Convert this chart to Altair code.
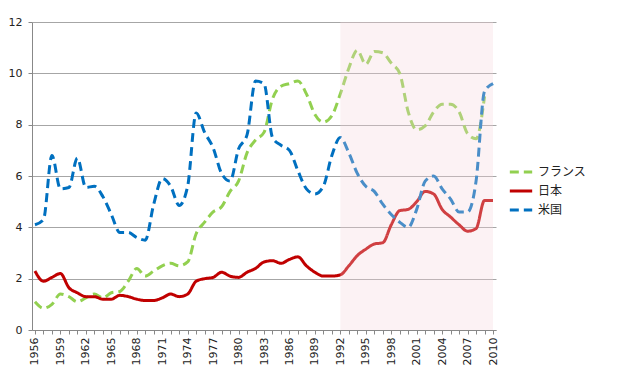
import altair as alt
import pandas as pd

years = list(range(1956, 2011))

france = [1.1, 0.85, 1.0, 1.4, 1.3, 1.1, 1.25, 1.4, 1.25, 1.45,
          1.5, 1.9, 2.4, 2.1, 2.3, 2.5, 2.6, 2.5, 2.65, 3.75,
          4.2, 4.6, 4.8, 5.4, 5.8, 6.9, 7.4, 7.7, 9.0, 9.5,
          9.6, 9.7, 9.2, 8.4, 8.1, 8.35, 9.2, 10.2, 10.9, 10.35,
          10.85, 10.8, 10.4, 10.0, 8.5, 7.8, 7.95, 8.5, 8.8, 8.8,
          8.5, 7.65, 7.45, 9.1]

japan = [2.3, 1.9, 2.05, 2.2, 1.65, 1.45, 1.3, 1.3, 1.2, 1.2,
         1.35, 1.3, 1.2, 1.15, 1.15, 1.25, 1.4, 1.3, 1.4, 1.9,
         2.0, 2.05, 2.25, 2.1, 2.05, 2.25, 2.4, 2.65, 2.7, 2.6,
         2.75, 2.85, 2.5, 2.25, 2.1, 2.1, 2.15, 2.5, 2.9, 3.15,
         3.35, 3.4, 4.1, 4.65, 4.7, 5.0, 5.4, 5.3, 4.7, 4.4,
         4.1, 3.85, 3.95, 5.05, 5.05]

usa = [4.1, 4.3, 6.8, 5.5, 5.55, 6.7, 5.55, 5.6, 5.2, 4.5,
       3.8, 3.8, 3.6, 3.5, 4.9, 5.9, 5.6, 4.85, 5.6, 8.45,
       7.7, 7.1, 6.1, 5.8, 7.05, 7.6, 9.7, 9.6, 7.5, 7.2,
       7.0, 6.2, 5.5, 5.3, 5.6, 6.8, 7.5, 6.9, 6.1, 5.6,
       5.4, 4.9, 4.5, 4.2, 4.0, 4.7, 5.8, 6.0, 5.5, 5.1,
       4.6, 4.6, 5.8, 9.3, 9.6]

series_names = ["フランス", "日本", "米国"]
series_colors = ["#92D050", "#C00000", "#0070C0"]
series_dash = [[9, 5], [1, 0], [9, 5]]

y_ticks = [0, 2, 4, 6, 8, 10, 12]
shade_start = [1992]
shade_end = [2010]

rows = []
for name, vals in zip(series_names, [france, japan, usa]):
    for yr, v in zip(years, vals):
        rows.append({"year": yr, "rate": v, "series": name})
df = pd.DataFrame(rows)

x_scale = alt.Scale(domain=[1955.65, 2010.35], nice=False, zero=False)
y_scale = alt.Scale(domain=[0, 12], nice=False)

x_axis = alt.Axis(
    values=years,
    labelExpr="(datum.value - 1956) % 3 == 0 ? datum.label : ''",
    format="d",
    labelAngle=-90,
    title=None,
    grid=False,
    tickSize=4,
    labelPadding=3,
    labelFlush=False,
    labelOverlap=False,
)
y_axis = alt.Axis(values=y_ticks, title=None, grid=True, tickSize=4, labelPadding=6)

lines = alt.Chart(df).mark_line(strokeWidth=3, interpolate="monotone").encode(
    x=alt.X("year:Q", scale=x_scale, axis=x_axis),
    y=alt.Y("rate:Q", scale=y_scale, axis=y_axis),
    color=alt.Color("series:N", scale=alt.Scale(domain=series_names, range=series_colors),
                    legend=alt.Legend(title=None, orient="none", legendX=476, legendY=137)),
    strokeDash=alt.StrokeDash("series:N", scale=alt.Scale(domain=series_names, range=series_dash),
                              legend=alt.Legend(title=None, orient="none", legendX=476, legendY=137)),
)

shade_df = pd.DataFrame({"start": shade_start, "end": shade_end})
shade = alt.Chart(shade_df).mark_rect(color="#F5D3D9", opacity=0.3).encode(
    x=alt.X("start:Q", scale=x_scale, axis=x_axis),
    x2="end:Q",
    y=alt.datum(0, scale=y_scale, axis=y_axis),
    y2=alt.datum(12),
)

chart = alt.layer(lines, shade).properties(
    width=464, height=308,
    padding={"left": 0, "top": 8, "right": 5, "bottom": 2},
).configure_view(stroke=None).configure_axis(
    labelFont="DejaVu Sans", labelFontSize=11, labelColor="#222222",
    domainColor="#888888", tickColor="#888888", gridColor="#A6A6A6",
).configure_legend(
    labelFont="Noto Sans CJK JP", labelFontSize=12, labelColor="#222222",
    symbolType="stroke", symbolStrokeWidth=3, symbolSize=500, rowPadding=0,
)

chart.save("out.html", embed_options={"renderer": "svg", "actions": False})
